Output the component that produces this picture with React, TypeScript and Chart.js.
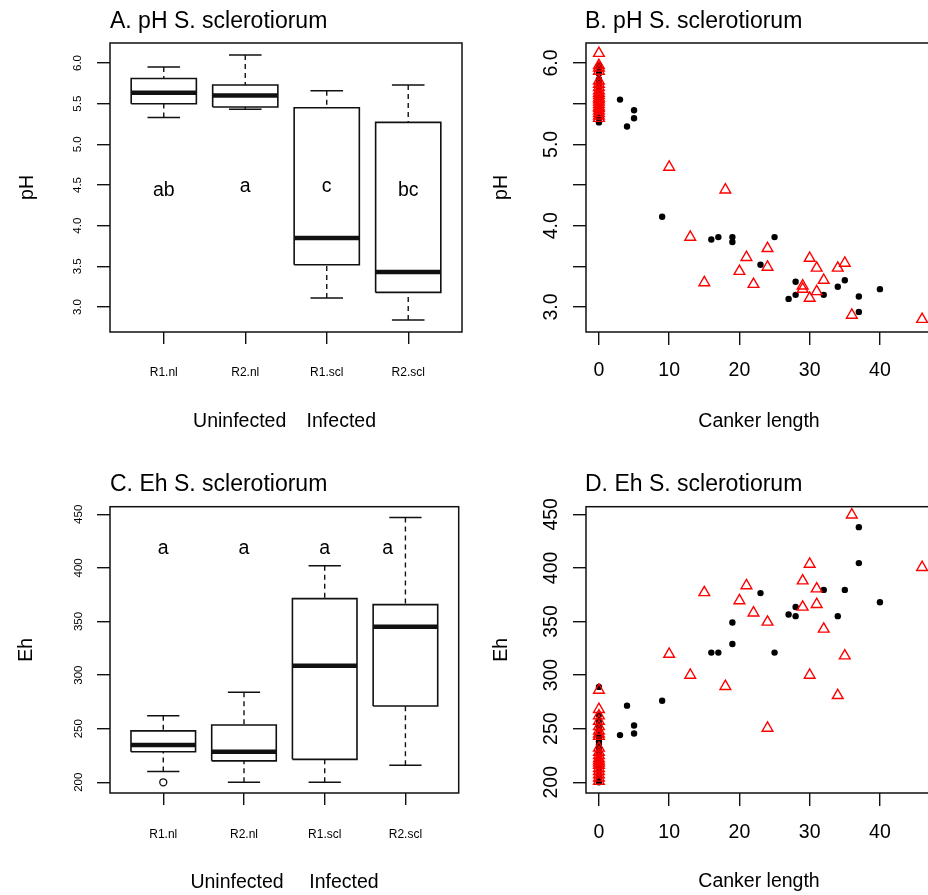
import React, { useEffect, useRef } from 'react';
import { Chart, registerables } from 'chart.js';

Chart.register(...registerables);

const FONT = "'Liberation Sans', Arial, Helvetica, sans-serif";

// ---------- Box plot data (panels A and C) ----------
const groups = ['R1.nl', 'R2.nl', 'R1.scl', 'R2.scl'];
// [lower whisker, Q1, median, Q3, upper whisker]
const phR1nl = [5.33, 5.5, 5.635, 5.81, 5.95];
const phR2nl = [5.43, 5.46, 5.6, 5.73, 6.1];
const phR1scl = [3.11, 3.52, 3.85, 5.45, 5.66];
const phR2scl = [2.84, 3.18, 3.43, 5.27, 5.73];

const ehR1nl = [210, 228.5, 234.8, 248, 262];
const ehR2nl = [200, 220, 228.5, 253.5, 284];
const ehR1scl = [200, 221.4, 308.8, 371.3, 402];
const ehR2scl = [216, 271.2, 345.2, 365.7, 447];
const ehOutlierGroup = [1];
const ehOutlierValue = [200];

const phLetters = ['ab', 'a', 'c', 'bc'];
const phLetterX = [1, 2, 3, 4];
const phLetterY = [4.37, 4.41, 4.41, 4.37];
const ehLetters = ['a', 'a', 'a', 'a'];
const ehLetterX = [1, 2, 3, 3.78];
const ehLetterY = [413, 413, 413, 413];

const phTicks = [3, 3.5, 4, 4.5, 5, 5.5, 6];
const phTickLabelsSmall = ['3.0', '3.5', '4.0', '4.5', '5.0', '5.5', '6.0'];
const phTickLabelsLarge = ['3.0', '', '4.0', '', '5.0', '', '6.0'];
const ehTicks = [200, 250, 300, 350, 400, 450];
const ehTickLabels = ['200', '250', '300', '350', '400', '450'];
const groupTicks = [1, 2, 3, 4];
const cankerTicks = [0, 10, 20, 30, 40];
const cankerTickLabels = ['0', '10', '20', '30', '40'];

// ---------- Scatter data (panels B and D) ----------
// black filled dots
const cankerBlack = [
  0, 0, 0, 0, 0, 0, 0, 0, 0, 0, 0, 0, 0, 0, 0, 0, 0, 0,
  3, 4, 5, 5, 9, 16, 17, 19, 19, 23, 25, 27, 28, 28, 32, 34, 35, 37, 37, 40,
];
const phBlack = [
  5.97, 5.94, 5.9, 5.87, 5.8, 5.76, 5.72, 5.68, 5.64, 5.6, 5.57, 5.52, 5.49, 5.45, 5.4, 5.36, 5.32, 5.27,
  5.55, 5.22, 5.42, 5.32, 4.11, 3.83, 3.86, 3.86, 3.8, 3.52, 3.86, 3.1, 3.31, 3.15, 3.15, 3.25, 3.33, 3.13, 2.94, 3.22,
];
const ehBlack = [
  289, 263, 258, 254, 250, 246, 242, 238, 235, 232, 229, 226, 222, 218, 214, 210, 205, 200,
  244, 271.5, 253, 245.5, 276, 321, 321, 349, 329, 376.5, 321, 356.5, 363.5, 355, 379.5, 355, 379.5, 438, 404.5, 368,
];
// red open triangles
const cankerRed = [
  0, 0, 0, 0, 0, 0, 0, 0, 0, 0, 0, 0, 0, 0, 0, 0, 0, 0, 0, 0,
  10, 13, 15, 18, 20, 21, 22, 24, 24, 29, 29, 30, 30, 31, 31, 32, 34, 35, 36, 46,
];
const phRed = [
  6.12, 5.97, 5.94, 5.9, 5.78, 5.74, 5.7, 5.66, 5.63, 5.6, 5.57, 5.55, 5.52, 5.49, 5.46, 5.44, 5.41, 5.38, 5.35, 5.32,
  4.72, 3.86, 3.3, 4.44, 3.44, 3.61, 3.28, 3.72, 3.49, 3.26, 3.22, 3.6, 3.11, 3.48, 3.19, 3.33, 3.48, 3.54, 2.9, 2.85,
];
const ehRed = [
  286, 268, 262, 257, 252, 248, 245, 243, 232, 228, 225, 222, 220, 218, 216, 213, 210, 207, 204, 201,
  319.5, 300, 377, 289.5, 369.5, 383.5, 358, 349.5, 250.5, 388, 363.5, 403.5, 300, 380.5, 366, 343, 281, 318, 449.5, 400.5,
];

// ---------- helpers ----------
const BOX_HALF = 0.4;
const STAPLE_HALF = 0.2;

const seg = (pts: [number, number][], width: number, dash: number[] = []) => ({
  type: 'scatter',
  data: pts.map(([x, y]) => ({ x, y })),
  showLine: true,
  borderColor: '#111',
  borderWidth: width,
  borderDash: dash,
  borderCapStyle: 'butt',
  borderJoinStyle: 'miter',
  pointRadius: 0,
  pointHoverRadius: 0,
  fill: false,
});

function boxDatasets(stats: number[][]) {
  const ds: any[] = [];
  stats.forEach((s, i) => {
    const x = groupTicks[i];
    const [lo, q1, med, q3, hi] = s;
    ds.push(seg([[x - BOX_HALF, q1], [x + BOX_HALF, q1], [x + BOX_HALF, q3], [x - BOX_HALF, q3], [x - BOX_HALF, q1]], 1.6));
    ds.push(seg([[x - BOX_HALF, med], [x + BOX_HALF, med]], 4.5));
    ds.push(seg([[x, hi], [x, q3]], 1.4, [5, 4]));
    ds.push(seg([[x, lo], [x, q1]], 1.4, [5, 4]));
    ds.push(seg([[x - STAPLE_HALF, hi], [x + STAPLE_HALF, hi]], 1.5));
    ds.push(seg([[x - STAPLE_HALF, lo], [x + STAPLE_HALF, lo]], 1.5));
  });
  return ds;
}

function scatterDatasets(xs: number[], yBlack: number[], xr: number[], yRed: number[]) {
  return [
    {
      type: 'scatter',
      data: xr.map((x, i) => ({ x, y: yRed[i] })),
      pointStyle: 'triangle',
      pointRadius: 6.2,
      pointBorderColor: '#ff0000',
      pointBackgroundColor: 'rgba(0,0,0,0)',
      pointBorderWidth: 1.4,
      showLine: false,
    },
    {
      type: 'scatter',
      data: xs.map((x, i) => ({ x, y: yBlack[i] })),
      pointStyle: 'circle',
      pointRadius: 3.2,
      pointBorderWidth: 0,
      pointBackgroundColor: '#000',
      showLine: false,
    },
  ];
}

type Spec = {
  key: string;
  left: number;
  top: number;
  w: number;
  h: number;
  area: { l: number; t: number; r: number; b: number };
  xMin: number;
  xMax: number;
  xTicks: number[];
  xTickLabels: string[];
  xTickSize: number;
  xTickPad: number;
  xTickLen: number;
  yMin: number;
  yMax: number;
  yTicks: number[];
  yTickLabels: string[];
  yTickSize: number;
  yTickBaseX: number;
  title: string;
  titleX: number;
  titleBase: number;
  yTitle: string;
  yTitleBaseX: number;
  xTitles: { text: string; x: number }[];
  xTitleBase: number;
  letters?: { text: string[]; x: number[]; y: number[] };
  datasets: any[];
};

function decor(spec: Spec) {
  return {
    id: 'decor' + spec.key,
    afterDraw(chart: any) {
      const { ctx, chartArea: a, scales } = chart;
      ctx.save();
      ctx.setLineDash([]);
      ctx.strokeStyle = '#111';
      ctx.lineWidth = 1.5;
      ctx.strokeRect(a.left, a.top, a.right - a.left, a.bottom - a.top);
      ctx.fillStyle = '#000';
      // rotated y tick labels
      ctx.font = `${spec.yTickSize}px ${FONT}`;
      ctx.textAlign = 'center';
      ctx.textBaseline = 'alphabetic';
      scales.y.ticks.forEach((t: any, i: number) => {
        const lab = spec.yTickLabels[i];
        if (!lab) return;
        const py = scales.y.getPixelForValue(t.value);
        ctx.save();
        ctx.translate(spec.yTickBaseX, py);
        ctx.rotate(-Math.PI / 2);
        ctx.fillText(lab, 0, 0);
        ctx.restore();
      });
      // main title
      ctx.font = `23px ${FONT}`;
      ctx.textAlign = 'left';
      ctx.fillText(spec.title, spec.titleX, spec.titleBase);
      // y title
      ctx.font = `19.5px ${FONT}`;
      ctx.textAlign = 'center';
      ctx.save();
      ctx.translate(spec.yTitleBaseX, (a.top + a.bottom) / 2);
      ctx.rotate(-Math.PI / 2);
      ctx.fillText(spec.yTitle, 0, 0);
      ctx.restore();
      // x titles
      spec.xTitles.forEach((t) => ctx.fillText(t.text, t.x, spec.xTitleBase));
      // letters
      if (spec.letters) {
        const L = spec.letters;
        L.text.forEach((s, i) => {
          ctx.fillText(s, scales.x.getPixelForValue(L.x[i]), scales.y.getPixelForValue(L.y[i]));
        });
      }
      ctx.restore();
    },
  };
}

function buildConfig(spec: Spec): any {
  const { area, w, h } = spec;
  return {
    type: 'scatter',
    data: { datasets: spec.datasets },
    options: {
      responsive: false,
      animation: false,
      events: [],
      layout: { padding: { left: 0, top: area.t, right: w - area.r, bottom: 0 } },
      plugins: { legend: { display: false }, tooltip: { enabled: false }, title: { display: false } },
      scales: {
        x: {
          type: 'linear',
          min: spec.xMin,
          max: spec.xMax,
          afterBuildTicks: (s: any) => {
            s.ticks = spec.xTicks.map((v) => ({ value: v }));
          },
          afterFit: (s: any) => {
            s.height = h - area.b;
          },
          ticks: {
            callback: (_v: any, i: number) => spec.xTickLabels[i],
            font: { family: FONT, size: spec.xTickSize },
            color: '#000',
            padding: spec.xTickPad,
            maxRotation: 0,
            minRotation: 0,
            autoSkip: false,
          },
          grid: { drawOnChartArea: false, drawTicks: true, tickLength: spec.xTickLen, color: '#111', lineWidth: 1.4 },
          border: { display: false },
        },
        y: {
          type: 'linear',
          min: spec.yMin,
          max: spec.yMax,
          afterBuildTicks: (s: any) => {
            s.ticks = spec.yTicks.map((v) => ({ value: v }));
          },
          afterFit: (s: any) => {
            s.width = area.l;
          },
          ticks: { display: false },
          grid: { drawOnChartArea: false, drawTicks: true, tickLength: 13, color: '#111', lineWidth: 1.4 },
          border: { display: false },
        },
      },
    },
    plugins: [decor(spec)],
  };
}

const phStats = [phR1nl, phR2nl, phR1scl, phR2scl];
const ehStats = [ehR1nl, ehR2nl, ehR1scl, ehR2scl];

const outlierDataset = {
  type: 'scatter',
  data: ehOutlierGroup.map((x, i) => ({ x, y: ehOutlierValue[i] })),
  pointStyle: 'circle',
  pointRadius: 3.5,
  pointBorderColor: '#111',
  pointBorderWidth: 1.3,
  pointBackgroundColor: 'rgba(0,0,0,0)',
  showLine: false,
};

const PH_MIN = 2.693;
const PH_MAX = 6.246;
const EH_MIN = 190;
const EH_MAX = 457.1;

const specs: Spec[] = [
  {
    key: 'A', left: 0, top: 0, w: 464, h: 447,
    area: { l: 110, t: 43, r: 462, b: 332 },
    xMin: 0.34, xMax: 4.66, xTicks: groupTicks, xTickLabels: groups, xTickSize: 12, xTickPad: 21.8, xTickLen: 12,
    yMin: PH_MIN, yMax: PH_MAX, yTicks: phTicks, yTickLabels: phTickLabelsSmall, yTickSize: 11.5, yTickBaseX: 81,
    title: 'A. pH S. sclerotiorum', titleX: 110, titleBase: 28.3,
    yTitle: 'pH', yTitleBaseX: 33,
    xTitles: [{ text: 'Uninfected', x: 239.7 }, { text: 'Infected', x: 341.3 }], xTitleBase: 426.7,
    letters: { text: phLetters, x: phLetterX, y: phLetterY },
    datasets: boxDatasets(phStats),
  },
  {
    key: 'B', left: 464, top: 0, w: 480, h: 447,
    area: { l: 122, t: 43, r: 471, b: 332 },
    xMin: -1.84, xMax: 47.84, xTicks: cankerTicks, xTickLabels: cankerTickLabels, xTickSize: 19.5, xTickPad: 13.6, xTickLen: 13,
    yMin: PH_MIN, yMax: PH_MAX, yTicks: phTicks, yTickLabels: phTickLabelsLarge, yTickSize: 19.5, yTickBaseX: 93,
    title: 'B. pH S. sclerotiorum', titleX: 121, titleBase: 28.3,
    yTitle: 'pH', yTitleBaseX: 43,
    xTitles: [{ text: 'Canker length', x: 295 }], xTitleBase: 427,
    datasets: scatterDatasets(cankerBlack, phBlack, cankerRed, phRed),
  },
  {
    key: 'C', left: 0, top: 447, w: 464, h: 448,
    area: { l: 110, t: 59.7, r: 462, b: 346 },
    xMin: 0.34, xMax: 4.66, xTicks: groupTicks, xTickLabels: groups, xTickSize: 12, xTickPad: 22.5, xTickLen: 12,
    yMin: EH_MIN, yMax: EH_MAX, yTicks: ehTicks, yTickLabels: ehTickLabels, yTickSize: 11.5, yTickBaseX: 81.5,
    title: 'C. Eh S. sclerotiorum', titleX: 110, titleBase: 43.7,
    yTitle: 'Eh', yTitleBaseX: 32,
    xTitles: [{ text: 'Uninfected', x: 237 }, { text: 'Infected', x: 344 }], xTitleBase: 440.5,
    letters: { text: ehLetters, x: ehLetterX, y: ehLetterY },
    datasets: [outlierDataset, ...boxDatasets(ehStats)],
  },
  {
    key: 'D', left: 464, top: 447, w: 480, h: 448,
    area: { l: 122, t: 59.7, r: 471, b: 346 },
    xMin: -1.84, xMax: 47.84, xTicks: cankerTicks, xTickLabels: cankerTickLabels, xTickSize: 19.5, xTickPad: 15, xTickLen: 13,
    yMin: EH_MIN, yMax: EH_MAX, yTicks: ehTicks, yTickLabels: ehTickLabels, yTickSize: 19.5, yTickBaseX: 93,
    title: 'D. Eh S. sclerotiorum', titleX: 121, titleBase: 43.7,
    yTitle: 'Eh', yTitleBaseX: 43,
    xTitles: [{ text: 'Canker length', x: 295 }], xTitleBase: 440,
    datasets: scatterDatasets(cankerBlack, ehBlack, cankerRed, ehRed),
  },
];

function Panel({ spec }: { spec: Spec }) {
  const ref = useRef<HTMLCanvasElement>(null);
  useEffect(() => {
    const chart = new Chart(ref.current as HTMLCanvasElement, buildConfig(spec));
    return () => chart.destroy();
  }, [spec]);
  return (
    <canvas
      ref={ref}
      width={spec.w}
      height={spec.h}
      style={{ position: 'absolute', left: spec.left, top: spec.top, width: spec.w, height: spec.h, display: 'block' }}
    />
  );
}

export default function App() {
  return (
    <div
      style={{
        position: 'fixed',
        left: 0,
        top: 0,
        width: 928,
        height: 895,
        overflow: 'hidden',
        background: '#fff',
      }}
    >
      {specs.map((s) => (
        <Panel key={s.key} spec={s} />
      ))}
    </div>
  );
}
